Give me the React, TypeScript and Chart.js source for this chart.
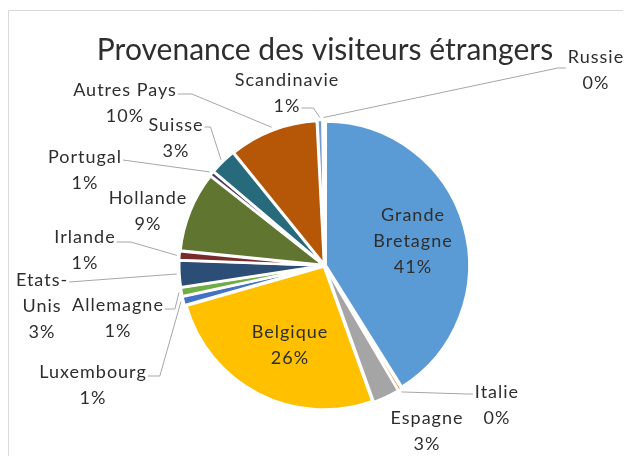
import React, { useEffect, useRef } from "react";
import { Chart, registerables } from "chart.js";

Chart.register(...registerables);

const titleText = "Provenance des visiteurs étrangers";

const categories = [
  "Grande Bretagne",
  "Italie",
  "Espagne",
  "Belgique",
  "Luxembourg",
  "Allemagne",
  "Etats-Unis",
  "Irlande",
  "Hollande",
  "Portugal",
  "Suisse",
  "Autres Pays",
  "Scandinavie",
  "Russie",
];

const shares = [41, 0.4, 3, 26, 1, 1, 3, 1, 9, 0.55, 3, 10, 0.6, 0.2];

const sliceColors = [
  "#5B9BD5",
  "#ED7D31",
  "#A5A5A5",
  "#FFC000",
  "#4472C4",
  "#70AD47",
  "#2C4D75",
  "#772C2A",
  "#5F7530",
  "#4D3B62",
  "#276A7C",
  "#B65708",
  "#729ACA",
  "#CE8D3E",
];

type Lay = {
  dx: number;
  dy: number;
  lines?: string[];
  side?: "left" | "right";
  anchorLine?: number;
  anchorDy?: number;
  elbow?: number;
};

// label placement relative to the pie centre (style/layout only)
const labelLayout: Record<string, Lay> = {
  "Grande Bretagne": { dx: 88.5, dy: -50.5, lines: ["Grande", "Bretagne"] },
  Italie: { dx: 172.5, dy: 126.5, side: "left", anchorLine: 0, anchorDy: 2, elbow: 6 },
  Espagne: { dx: 102.5, dy: 152.5 },
  Belgique: { dx: -34.5, dy: 66.5 },
  Luxembourg: { dx: -231.5, dy: 106.5, side: "right", anchorLine: 0, anchorDy: 4, elbow: 12 },
  Allemagne: { dx: -206.5, dy: 39.5, side: "right", anchorLine: 0, anchorDy: 4, elbow: 10 },
  "Etats-Unis": { dx: -282.5, dy: 14.5, lines: ["Etats-", "Unis"], side: "right", anchorLine: 0, anchorDy: 2, elbow: 0 },
  Irlande: { dx: -239.5, dy: -28.5, side: "right", anchorLine: 0, anchorDy: 5, elbow: 14 },
  Hollande: { dx: -176.5, dy: -67.5 },
  Portugal: { dx: -239.5, dy: -108.5, side: "right", anchorLine: 0, anchorDy: 3, elbow: 0 },
  Suisse: { dx: -148.5, dy: -140.5, side: "right", anchorLine: 0, anchorDy: 2, elbow: 6 },
  "Autres Pays": { dx: -199.5, dy: -175.5, side: "right", anchorLine: 0, anchorDy: 4, elbow: 14 },
  Scandinavie: { dx: -37.5, dy: -185.5, side: "right", anchorLine: 1, anchorDy: 2, elbow: 12 },
  Russie: { dx: 271.5, dy: -208.5, side: "left", anchorLine: 0, anchorDy: 11, elbow: 8 },
};

const LABEL_FONT = '18px Lato, "Open Sans", sans-serif';
const TITLE_FONT = '30px Lato, "Open Sans", sans-serif';
const TEXT_COLOR = "#2E2E2E";
const LINE_H = 26;
const SLICE_OFFSET = 5;

const labelPlugin = {
  id: "excelLabels",
  afterDraw(chart: any) {
    const ctx: CanvasRenderingContext2D = chart.ctx;
    ctx.save();
    // chart border
    ctx.strokeStyle = "#D9D9D9";
    ctx.lineWidth = 1;
    ctx.beginPath();
    ctx.moveTo(0.5, chart.height);
    ctx.lineTo(0.5, 2.5);
    ctx.lineTo(chart.width, 2.5);
    ctx.stroke();

    // title
    ctx.fillStyle = TEXT_COLOR;
    ctx.font = TITLE_FONT;
    ctx.textAlign = "center";
    ctx.textBaseline = "middle";
    ctx.fillText(titleText, chart.width / 2 + 5.5, 42);

    const meta = chart.getDatasetMeta(0);
    const total = shares.reduce((a, b) => a + b, 0);
    ctx.font = LABEL_FONT;
    (ctx as any).letterSpacing = "1px";
    meta.data.forEach((arc: any, i: number) => {
      const { x, y, startAngle, endAngle, outerRadius } = arc.getProps(
        ["x", "y", "startAngle", "endAngle", "outerRadius"],
        true
      );
      const name = categories[i];
      const lay = labelLayout[name];
      if (!lay) return;
      const pct = Math.round((shares[i] / total) * 100) + "%";
      const lines = [...(lay.lines ?? [name]), pct];
      const lx = x + lay.dx;
      const ly = y + lay.dy;
      ctx.fillStyle = TEXT_COLOR;
      ctx.textAlign = "center";
      ctx.textBaseline = "middle";
      lines.forEach((t, k) => ctx.fillText(t, lx, ly + k * LINE_H));
      if (lay.side) {
        const li = lay.anchorLine ?? 0;
        const w = ctx.measureText(lines[li]).width;
        const ax = lay.side === "right" ? lx + w / 2 + 1 : lx - w / 2 - 2;
        const ay = ly + li * LINE_H + (lay.anchorDy ?? 0);
        const ex = lay.side === "right" ? ax + (lay.elbow ?? 0) : ax - (lay.elbow ?? 0);
        const mid = (startAngle + endAngle) / 2;
        const r = outerRadius + SLICE_OFFSET;
        const px = x + Math.cos(mid) * r;
        const py = y + Math.sin(mid) * r;
        ctx.strokeStyle = "#A6A6A6";
        ctx.lineWidth = 1;
        ctx.beginPath();
        ctx.moveTo(ax, ay);
        ctx.lineTo(ex, ay);
        ctx.lineTo(px, py);
        ctx.stroke();
      }
    });
    ctx.restore();
  },
};

export default function App() {
  const ref = useRef<HTMLCanvasElement | null>(null);
  useEffect(() => {
    if (!ref.current) return;
    const chart = new Chart(ref.current, {
      type: "pie",
      data: {
        labels: categories,
        datasets: [
          {
            data: shares,
            backgroundColor: sliceColors,
            borderColor: "#FFFFFF",
            borderWidth: 2.5,
            offset: SLICE_OFFSET,
            radius: 143,
          } as any,
        ],
      },
      options: {
        responsive: false,
        animation: false,
        layout: { padding: { left: 10, right: 0, top: 67, bottom: 0 } },
        plugins: {
          legend: { display: false },
          title: { display: false },
          tooltip: { enabled: false },
        },
      },
      plugins: [labelPlugin],
    });
    return () => chart.destroy();
  }, []);
  return (
    <div style={{ width: 623, height: 448 }}>
      <canvas ref={ref} width={623} height={448} style={{ display: "block" }} />
    </div>
  );
}
